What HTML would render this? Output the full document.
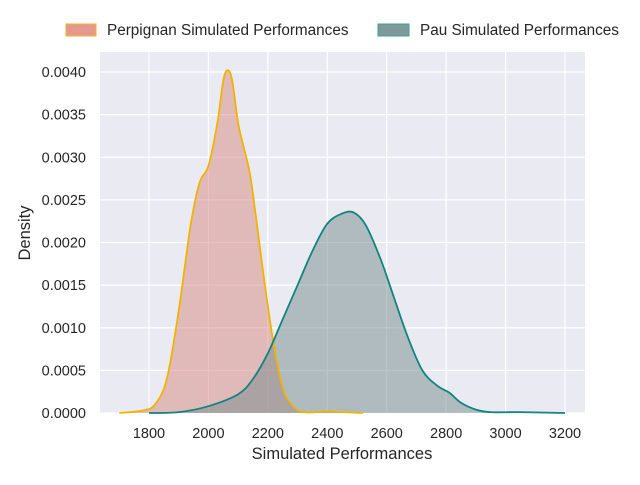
<!DOCTYPE html>
<html><head><meta charset="utf-8"><style>
body{margin:0;background:#fff;}
svg{font-family:"Liberation Sans",Arial,sans-serif;}
</style></head><body>
<svg id="s" width="640" height="480" xmlns="http://www.w3.org/2000/svg">
<rect x="100" y="52" width="485" height="361" fill="#eaeaf2"/>
<g id="grid" stroke="#fff" stroke-width="1.2"></g>
<g id="curves"></g>
<g id="ticks" font-size="14.5" fill="#262626"></g>
<text x="342" y="459" font-size="16.5" text-anchor="middle" fill="#262626">Simulated Performances</text>
<text x="30" y="233" font-size="16.5" text-anchor="middle" fill="#262626" transform="rotate(-90 30 233)">Density</text>
<rect x="66" y="24" width="30" height="12" fill="#e5998e" stroke="#f0b429" stroke-width="1"/>
<text x="107" y="35" font-size="15.3" fill="#262626">Perpignan Simulated Performances</text>
<rect x="378" y="24" width="31" height="12" fill="#7d9a98" stroke="#3aa39a" stroke-width="1"/>
<text x="420" y="35" font-size="15.3" fill="#262626">Pau Simulated Performances</text>
</svg>
<script>
var NS="http://www.w3.org/2000/svg";
function X(v){return 149+(v-1800)*0.29714;}
function Y(d){return 413-d*85250;}
var g=document.getElementById('grid'),t=document.getElementById('ticks');
function el(p,n,a,txt){var e=document.createElementNS(NS,n);for(var k in a)e.setAttribute(k,a[k]);if(txt)e.textContent=txt;p.appendChild(e);return e;}
for(var v=1800;v<=3200;v+=200){var x=X(v);el(g,'line',{x1:x,x2:x,y1:52,y2:413});el(t,'text',{x:x,y:438,'text-anchor':'middle'},String(v));}
for(var i=0;i<=8;i++){var d=i*0.0005,y=Y(d);el(g,'line',{x1:100,x2:585,y1:y,y2:y});el(t,'text',{x:86,y:y+5,'text-anchor':'end'},d.toFixed(4));}
function path(pts){var p=pts.map(function(q){return [X(q[0]),Y(q[1])];});var s='M'+p[0][0]+','+p[0][1];
for(var i=0;i<p.length-1;i++){var p0=p[i-1]||p[i],p1=p[i],p2=p[i+1],p3=p[i+2]||p2;
s+=' C'+(p1[0]+(p2[0]-p0[0])/6)+','+(p1[1]+(p2[1]-p0[1])/6)+' '+(p2[0]-(p3[0]-p1[0])/6)+','+(p2[1]-(p3[1]-p1[1])/6)+' '+p2[0]+','+p2[1];}
return s;}
var per=[[1700,0],[1780,0.00003],[1820,0.0001],[1860,0.0004],[1900,0.0012],[1940,0.0022],[1970,0.0027],[2000,0.0029],[2030,0.0034],[2050,0.0039],[2065,0.00402],[2080,0.0039],[2100,0.0034],[2120,0.0031],[2140,0.0028],[2160,0.0023],[2190,0.0015],[2220,0.0008],[2250,0.0003],[2280,0.0001],[2320,0.00001],[2400,0.00002],[2450,0.00001],[2520,0]];
var pau=[[1800,0],[1900,0.00001],[2000,0.00008],[2100,0.00022],[2150,0.0004],[2200,0.0007],[2250,0.0011],[2300,0.0015],[2350,0.0019],[2400,0.00222],[2450,0.00234],[2490,0.00235],[2530,0.0022],[2580,0.0018],[2620,0.0014],[2670,0.0009],[2720,0.0005],[2770,0.00032],[2810,0.00024],[2850,0.00012],[2900,0.00004],[2950,0.00001],[3050,0.00001],[3200,0]];
var c=document.getElementById('curves');
var pp=path(per),pu=path(pau);
el(c,'path',{d:pp+' L'+X(2520)+','+Y(0)+' L'+X(1700)+','+Y(0)+'Z',fill:'rgba(214,136,128,0.5)'});
el(c,'path',{d:pu+' L'+X(3200)+','+Y(0)+' L'+X(1800)+','+Y(0)+'Z',fill:'rgba(118,140,142,0.5)'});
el(c,'path',{d:pp,fill:'none',stroke:'#f0b400','stroke-width':1.8});
el(c,'path',{d:pu,fill:'none',stroke:'#10857e','stroke-width':1.8});
</script>
</body></html>
